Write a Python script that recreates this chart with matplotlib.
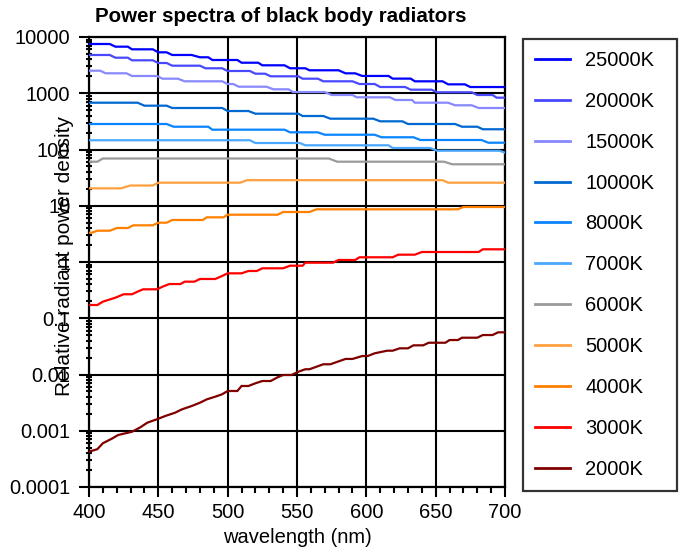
import matplotlib
matplotlib.use("Agg")
import matplotlib.pyplot as plt
from matplotlib.ticker import FixedLocator, LogLocator, NullFormatter

plt.rcParams['font.family'] = ['Liberation Sans', 'DejaVu Sans']

FS = 14.5

# Relative radiant power density read per temperature (wavelength nm, value)
wl_25000 = [400, 415, 419, 428, 431, 446, 450, 456, 460, 474, 480, 486, 489, 507, 510, 522, 525,
            541, 545, 556, 559, 580, 585, 592, 597, 616, 619, 632, 635, 655, 659, 671, 675, 700]
pw_25000 = [7510, 7510, 6730, 6730, 6040, 6040, 5340, 5340, 4790, 4790, 4360, 4360, 3900, 3900,
            3490, 3490, 3140, 3140, 2780, 2780, 2560, 2560, 2260, 2260, 2030, 2030, 1820, 1820,
            1630, 1630, 1440, 1440, 1290, 1290]

wl_20000 = [400, 415, 419, 428, 431, 446, 450, 456, 460, 480, 484, 496, 500, 516, 520, 527, 531,
            551, 554, 565, 569, 590, 595, 606, 610, 628, 632, 647, 651, 676, 680, 691, 694, 700]
pw_20000 = [4790, 4790, 4285, 4285, 3851, 3851, 3449, 3449, 3090, 3090, 2778, 2778, 2487, 2487,
            2226, 2226, 2001, 2001, 1815, 1815, 1631, 1631, 1460, 1460, 1291, 1291, 1157, 1157,
            1040, 1040, 931, 931, 834, 834]

wl_15000 = [400, 408, 412, 427, 431, 449, 453, 464, 469, 496, 500, 504, 508, 528, 533, 544, 547,
            570, 575, 590, 593, 617, 621, 633, 635, 659, 664, 676, 681, 700]
pw_15000 = [2518, 2518, 2263, 2263, 2028, 2028, 1815, 1815, 1631, 1631, 1460, 1460, 1307, 1307,
            1175, 1175, 1050, 1050, 931, 931, 847, 847, 759, 759, 679, 679, 611, 611, 547, 547]

wl_10000 = [400, 435, 440, 456, 460, 496, 500, 515, 520, 551, 554, 569, 574, 605, 610, 626, 630,
            664, 669, 680, 684, 700]
pw_10000 = [679, 679, 601, 601, 547, 547, 483, 483, 433, 433, 394, 394, 353, 353, 317, 317, 284,
            284, 254, 254, 229, 229]

wl_8000 = [400, 456, 461, 486, 489, 541, 545, 565, 570, 606, 611, 634, 639, 683, 688, 700]
pw_8000 = [284, 284, 254, 254, 225, 225, 202, 202, 183, 183, 165, 165, 147.5, 147.5, 132, 132]

wl_7000 = [400, 516, 520, 552, 556, 616, 619, 646, 651, 696, 700]
pw_7000 = [146, 146, 130.5, 130.5, 118.8, 118.8, 106.3, 106.3, 95.2, 95.2, 87.8]

wl_6000 = [400, 406, 410, 573, 579, 656, 662, 700]
pw_6000 = [60.7, 60.7, 69.2, 69.2, 60.7, 60.7, 54.6, 54.6]

wl_5000 = [400, 423, 430, 446, 450, 509, 514, 655, 659, 700]
pw_5000 = [20.4, 20.4, 22.9, 22.9, 25.7, 25.7, 28.5, 28.5, 25.7, 25.7]

wl_4000 = [400, 402, 406, 415, 420, 428, 432, 446, 450, 456, 460, 482, 485, 497, 500, 536, 540,
           559, 564, 666, 670, 700]
pw_4000 = [3.32, 3.32, 3.60, 3.60, 4.02, 4.02, 4.49, 4.49, 5.00, 5.00, 5.58, 5.58, 6.23, 6.23,
           6.93, 6.93, 7.74, 7.74, 8.65, 8.65, 9.50, 9.50]

wl_3000 = [400, 406, 410, 419, 425, 431, 435, 439, 449, 453, 458, 466, 469, 476, 480, 491, 496,
           500, 510, 515, 521, 525, 540, 545, 554, 556, 576, 580, 592, 595, 619, 623, 635, 640,
           681, 684, 700]
pw_3000 = [0.172, 0.172, 0.197, 0.232, 0.267, 0.267, 0.297, 0.327, 0.327, 0.364, 0.406, 0.406,
           0.447, 0.447, 0.499, 0.499, 0.564, 0.629, 0.629, 0.692, 0.692, 0.773, 0.773, 0.859,
           0.859, 0.972, 0.972, 1.086, 1.086, 1.213, 1.213, 1.349, 1.349, 1.506, 1.506, 1.682,
           1.682]

wl_2000 = [400, 406, 410, 417, 421, 431, 437, 442, 449, 455, 462, 467, 474, 480, 485, 491, 496,
           500, 507, 510, 515, 520, 525, 531, 536, 540, 546, 551, 556, 559, 569, 574, 585, 590,
           597, 601, 606, 615, 619, 624, 630, 634, 641, 645, 657, 660, 666, 669, 680, 684, 691,
           695, 700]
pw_2000 = [4.25e-4, 4.7e-4, 6.0e-4, 7.35e-4, 8.4e-4, 9.6e-4, 1.15e-3, 1.39e-3, 1.60e-3, 1.83e-3,
           2.09e-3, 2.40e-3, 2.75e-3, 3.15e-3, 3.62e-3, 4.03e-3, 4.45e-3, 5.09e-3, 5.09e-3,
           6.25e-3, 6.25e-3, 6.98e-3, 7.66e-3, 7.66e-3, 8.91e-3, 9.8e-3, 9.8e-3, 0.0112, 0.0124,
           0.0124, 0.0152, 0.0152, 0.0189, 0.0189, 0.0213, 0.0213, 0.0238, 0.0265, 0.0265,
           0.0292, 0.0292, 0.0330, 0.0330, 0.0367, 0.0367, 0.0410, 0.0410, 0.0451, 0.0451,
           0.0503, 0.0503, 0.0562, 0.0562]

labels = ['25000K', '20000K', '15000K', '10000K', '8000K', '7000K',
          '6000K', '5000K', '4000K', '3000K', '2000K']
colors = ['#0000FF', '#4848FF', '#8888FF', '#0068D0', '#0A84FF', '#4AA8FF',
          '#9A9A9A', '#FFA040', '#FF8000', '#FF0000', '#800000']
series = [(wl_25000, pw_25000), (wl_20000, pw_20000), (wl_15000, pw_15000),
          (wl_10000, pw_10000), (wl_8000, pw_8000), (wl_7000, pw_7000),
          (wl_6000, pw_6000), (wl_5000, pw_5000), (wl_4000, pw_4000),
          (wl_3000, pw_3000), (wl_2000, pw_2000)]

fig = plt.figure(figsize=(6.8, 5.52), dpi=100)
ax = fig.add_axes([89 / 680, 1 - 487 / 552, 416 / 680, 450 / 552])

for (wl, pw), lab, col in zip(series, labels, colors):
    ax.plot(wl, pw, color=col, lw=1.6, label=lab, zorder=3, solid_joinstyle='miter')

ax.set_yscale('log')
ax.set_xlim(400, 700)
ax.set_ylim(1e-4, 1e4)

ax.set_xticks([400, 450, 500, 550, 600, 650, 700])
ax.xaxis.set_minor_locator(FixedLocator(range(400, 701, 10)))
yt = [1e-4, 1e-3, 1e-2, 1e-1, 1, 10, 100, 1000, 10000]
ax.set_yticks(yt)
ax.set_yticklabels(['0.0001', '0.001', '0.01', '0.1', '1', '10', '100', '1000', '10000'])
ax.yaxis.set_minor_locator(LogLocator(base=10, subs=range(2, 10), numticks=20))
ax.yaxis.set_minor_formatter(NullFormatter())

ax.tick_params(axis='both', which='major', labelsize=FS, width=1.5, length=7.5, color='black')
ax.tick_params(axis='x', which='major', pad=4)
ax.tick_params(axis='y', which='major', pad=6)
ax.tick_params(axis='x', which='minor', length=4.5, width=1.5, direction='out')
ax.tick_params(axis='y', which='minor', length=5, width=1.5, direction='inout')

ax.grid(True, which='major', color='black', lw=1.5, zorder=1)
for sp in ax.spines.values():
    sp.set_linewidth(1.6)
ax.set_axisbelow(True)

ax.set_xlabel('wavelength (nm)', fontsize=FS, labelpad=4)
fig.text(65 / 680, 1 - 256 / 552, 'Relative radiant power density', rotation=90,
         ha='center', va='center', fontsize=FS + 0.5, zorder=10)
fig.text(281 / 680, 1 - 17 / 552, 'Power spectra of black body radiators',
         ha='center', va='center', fontsize=FS + 0.3, fontweight='bold')

# legend box stretched to a fixed width on the right
leg = ax.legend(loc='upper left', mode='expand',
                bbox_to_anchor=(523 / 680, 1 - 489 / 552, 154 / 680, 450 / 552),
                bbox_transform=fig.transFigure, fontsize=FS, frameon=True,
                fancybox=False, edgecolor='black', borderpad=0.6, labelspacing=1.085,
                handlelength=1.75, handletextpad=0.75, borderaxespad=0)
leg.get_frame().set_linewidth(1.6)
for h in leg.get_lines():
    h.set_linewidth(2)

fig.savefig('out.png', dpi=100)
